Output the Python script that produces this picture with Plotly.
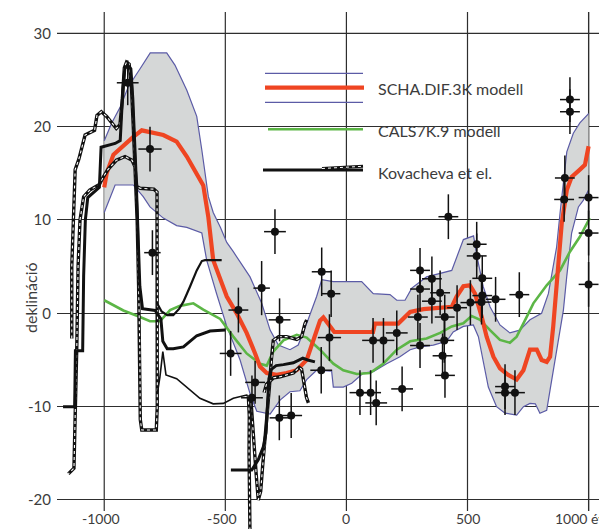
import plotly.graph_objects as go

# ---- SCHA.DIF.3K model: central curve and error envelope (year, declination deg)
scha_mean = [(-1000, 13.5), (-990, 15.0), (-962, 17.0), (-921, 18.0), (-880, 18.9), (-845, 19.6),
             (-797, 19.35), (-756, 19.1), (-701, 18.4), (-659, 16.8), (-591, 13.7), (-570, 10.3),
             (-550, 5.7), (-521, 3.6), (-494, 1.8), (-453, 0.0), (-412, -2.1), (-377, -4.3),
             (-357, -5.7), (-329, -6.4), (-288, -6.6), (-247, -6.4), (-205, -6.1), (-164, -5.0),
             (-137, -3.0), (-109, -0.8), (-95, -0.45), (-68, -1.4), (-50, -2.0), (110, -2.0),
             (118, -1.1), (214, -1.1), (263, 0.15), (318, 0.45), (373, 0.55), (435, 0.7),
             (455, 1.8), (483, 2.9), (510, 3.0), (531, 2.1), (559, -0.4), (579, -2.5),
             (607, -4.65), (634, -5.9), (668, -6.6), (703, -7.1), (731, -6.1), (758, -3.9),
             (786, -3.9), (806, -5.0), (827, -5.2), (841, -4.65), (854, -1.4), (868, 2.85),
             (889, 9.6), (910, 13.2), (930, 14.6), (964, 15.4), (985, 15.9), (1000, 17.9)]

scha_upper = [(-1000, 18.5), (-969, 20.4), (-934, 22.1), (-900, 24.3), (-852, 26.2), (-810, 27.9),
              (-742, 27.9), (-708, 26.6), (-659, 23.9), (-618, 21.1), (-597, 17.5), (-584, 15.0),
              (-570, 12.5), (-550, 10.8), (-520, 9.2), (-494, 7.6), (-467, 6.6), (-398, 3.9),
              (-350, 1.1), (-315, -1.8), (-281, -3.4), (-233, -3.9), (-199, -3.4), (-164, -1.1),
              (-123, 1.8), (-102, 3.6), (-54, 3.4), (63, 3.4), (111, 2.1), (180, 2.0), (208, 1.4),
              (242, 1.4), (270, 2.7), (331, 3.9), (435, 4.6), (483, 7.9), (525, 8.3), (540, 6.0),
              (565, 2.85), (593, 0.7), (634, -1.25), (675, -2.1), (716, -1.8), (758, -0.7),
              (806, 0.0), (834, 2.1), (868, 7.1), (882, 10.7), (910, 17.3), (937, 19.3),
              (964, 20.4), (1000, 21.4)]

scha_lower = [(-1000, 10.8), (-955, 13.75), (-880, 13.75), (-839, 12.5), (-811, 11.4), (-756, 10.2),
              (-701, 9.4), (-659, 9.2), (-597, 8.6), (-584, 6.6), (-577, 5.7), (-536, 2.1),
              (-494, -1.4), (-439, -5.0), (-398, -8.6), (-370, -10.5), (-315, -10.8), (-274, -9.3),
              (-233, -8.4), (-192, -8.3), (-164, -7.1), (-123, -6.1), (-61, -6.2), (-54, -7.9),
              (-13, -7.9), (22, -7.5), (70, -6.4), (111, -6.25), (166, -5.4), (221, -4.65),
              (263, -3.9), (304, -3.6), (359, -3.4), (414, -3.0), (441, -2.0), (483, -1.4),
              (524, -1.25), (545, -2.5), (565, -5.0), (586, -7.9), (620, -10.0), (655, -10.7),
              (703, -10.9), (731, -10.0), (758, -9.65), (780, -9.7), (799, -10.7), (827, -10.4),
              (841, -8.2), (868, -3.9), (896, 0.35), (910, 4.0), (930, 8.6), (958, 11.4),
              (978, 12.1), (1000, 13.2)]

# ---- CALS7K.9 model
cals = [(-1000, 1.4), (-921, 0.3), (-852, -0.4), (-811, -0.85), (-770, -0.85), (-728, 0.35),
        (-687, 0.8), (-632, 1.07), (-591, 0.4), (-521, -0.6), (-467, -2.5), (-412, -4.3),
        (-357, -5.4), (-329, -5.6), (-302, -4.1), (-260, -2.9), (-205, -2.3), (-164, -2.6),
        (-109, -3.9), (-54, -5.4), (-13, -6.1), (43, -6.5), (97, -6.4), (152, -5.4), (208, -3.9),
        (263, -3.0), (331, -2.7), (387, -2.1), (435, -1.4), (483, -1.07), (517, -0.3),
        (552, -0.7), (593, -1.8), (634, -2.85), (675, -3.15), (703, -2.5), (744, -0.4),
        (772, 1.07), (827, 3.0), (882, 4.6), (923, 6.6), (964, 8.2), (1005, 10.2)]

# ---- Kovacheva et al. curves (solid = curve, dashed = bounds)
kov_main = [(-1170, -10), (-1122, -10), (-1119, -4), (-1089, -4), (-1085, 4), (-1078, 10),
            (-1068, 12.4), (-1050, 12.8), (-1020, 13.5), (-1013, 17.8), (-955, 18.2), (-934, 18.5),
            (-923, 24), (-915, 26.2), (-903, 26.6), (-890, 26.2), (-882, 23), (-870, 15.7),
            (-859, 8.6), (-853, 2.9), (-842, 0.5), (-790, 0.3), (-766, -0.6), (-758, -3.0),
            (-740, -3.8), (-715, -3.8), (-673, -3.6), (-618, -2.4), (-563, -1.9), (-500, -1.8)]

kov_bound_a = [(-1134, -2.7), (-1134, 5.0), (-1120, 15.4), (-1105, 16.5), (-1079, 19.1), (-1040, 19.6),
               (-1030, 21.2), (-1012, 21.6), (-990, 21.1), (-962, 20.1), (-950, 19.8), (-935, 20.2),
               (-925, 23), (-917, 26.3), (-908, 26.9), (-897, 26.7), (-888, 24.5), (-880, 20),
               (-872, 15), (-864, 10), (-858, 3), (-853, -4), (-851, -11.4), (-845, -12.5),
               (-785, -12.5), (-781, -10), (-780, 0), (-780, 10), (-782, 13.0), (-795, 13.3),
               (-852, 13.4), (-866, 13.6), (-873, 15.7), (-885, 16.4), (-914, 16.8), (-950, 16.4),
               (-985, 15.4), (-1004, 14.6), (-1020, 13.8), (-1060, 13.2), (-1085, 12.5),
               (-1100, 10), (-1108, 5), (-1113, -3.2), (-1118, -10), (-1125, -16.6), (-1148, -17.2)]

kov_upper_b = [(-780, 1.0), (-763, 0.2), (-740, -0.2), (-715, -0.2), (-690, 0.5), (-673, 1.25),
               (-646, 2.85), (-618, 4.6), (-597, 5.6), (-584, 5.7), (-515, 5.7)]

kov_lower_b = [(-780, -8.5), (-770, -6.8), (-758, -4.1), (-745, -6.6), (-701, -7.0), (-659, -7.9),
               (-605, -9.1), (-550, -9.7), (-508, -9.65), (-467, -9.1), (-412, -8.75), (-395, -9.0)]

kov_drop = [(-405, -8.8), (-401, -11), (-402, -15), (-399, -20), (-398, -24)]

kov_dip = [(-395, -9.0), (-388, -12), (-381, -14.5), (-373, -17.1), (-364, -20.0), (-354, -19.1),
           (-346, -16.4), (-336, -13.6), (-327, -11.4), (-318, -7.9), (-310, -5.0), (-302, -2.9),
           (-280, -2.5), (-247, -2.5), (-205, -2.8), (-185, -2.5), (-171, -1.1), (-164, -0.7)]

kov_late = [(-477, -16.8), (-391, -16.8), (-364, -15.7), (-343, -14.3), (-332, -12.8), (-325, -9.0),
            (-320, -7.0), (-310, -6.0), (-290, -5.6), (-260, -5.5), (-219, -5.3), (-180, -4.8),
            (-160, -5.0), (-130, -5.2)]

kov_late_b = [(-340, -8.5), (-330, -7.6), (-300, -6.9), (-274, -6.8), (-219, -6.4), (-195, -5.8),
              (-185, -6.0), (-175, -7.5), (-165, -9.0), (-157, -9.6)]

# ---- archaeomagnetic data: year, declination, age error (yr), declination error (deg)
obs_year = [-903, -811, -801, -295, -350, -446, -276, -478, -377, -390, -277, -228,
            -102, -63, -70, -104, 56, 100, 123, 110, 153, 208, 230,
            304, 304, 353, 353, 387, 295, 304, 406, 404, 397, 407, 457, 421,
            512, 538, 538, 561, 561, 558, 616, 714, 655, 655, 696,
            923, 923, 902, 899, 1000, 1000, 1000]
obs_decl = [24.7, 17.6, 6.5, 8.75, 2.7, 0.35, -0.7, -4.3, -7.4, -9.05, -11.2, -10.95,
            4.45, 2.1, -2.6, -6.1, -8.5, -8.5, -9.6, -2.9, -2.9, -2.1, -8.1,
            4.6, 2.6, 3.7, 1.3, 2.2, -0.4, -3.45, -0.4, -2.9, -4.55, -6.65, 0.6, 10.35,
            1.15, 7.4, 6.15, 3.75, 1.9, 1.2, 1.5, 2.0, -7.85, -8.5, -8.5,
            22.9, 21.6, 14.5, 12.2, 12.4, 8.6, 3.1]
obs_age_err = [45, 48, 34, 45, 34, 41, 45, 45, 41, 45, 40, 45,
               41, 38, 48, 45, 43, 43, 45, 45, 45, 45, 45,
               41, 41, 41, 41, 41, 41, 41, 41, 41, 41, 41, 41, 41,
               41, 41, 41, 41, 41, 41, 41, 41, 41, 41, 41,
               41, 41, 41, 41, 41, 41, 41]
obs_decl_err = [2.4, 2.4, 2.4, 2.4, 2.9, 2.4, 2.3, 2.4, 2.3, 2.4, 2.4, 2.4,
                2.6, 2.5, 2.5, 2.5, 2.4, 2.4, 2.4, 2.4, 2.4, 2.4, 2.4,
                2.4, 2.4, 2.4, 2.4, 2.4, 2.4, 2.4, 2.4, 2.4, 2.4, 2.4, 2.4, 2.4,
                2.4, 2.4, 2.4, 2.4, 2.4, 2.4, 2.4, 2.4, 2.4, 2.4, 2.4,
                2.4, 2.4, 2.4, 2.4, 2.4, 2.4, 2.4]

# ---- axes
x_ticks = [-1000, -500, 0, 500, 1000]
x_tick_text = ["-1000", "-500", "0", "500", "1000 év"]
y_ticks = [-20, -10, 0, 10, 20, 30]
y_tick_text = ["-20", "-10", "0", "10", "20", "30"]
y_title = "deklináció"

legend_labels = ["SCHA.DIF.3K modell", "CALS7K.9 modell", "Kovacheva et el."]

# ---- styles
FONT = "Lato, 'Open Sans', sans-serif"
TEXT = "#3c3c3c"
GRID = "#2e2e2e"
BAND_FILL = "#d5d7d7"
BAND_LINE = "#5b5ba6"
RED = "#ef4522"
GREEN = "#5cb646"
BLACK = "#111111"

W, H = 599, 529
ML = 57
X_RANGE = [-1195, 1043]
Y_RANGE = [-23.11, 33.57]
GRID_Y_LO, GRID_Y_HI = -21.18, 32.28
X_LABEL_Y = -22.0


def cols(pairs):
    return [p[0] for p in pairs], [p[1] for p in pairs]


def pxx(x):
    return (x - ML) / (W - ML)


def pxy(y):
    return 1 - y / H


fig = go.Figure()

# error envelope of SCHA.DIF.3K
ut, ud = cols(scha_upper)
lt, ld = cols(scha_lower)
fig.add_trace(go.Scatter(x=ut + lt[::-1], y=ud + ld[::-1], fill="toself", fillcolor=BAND_FILL,
                         line=dict(width=0), mode="lines", hoverinfo="skip"))
fig.add_trace(go.Scatter(x=ut, y=ud, mode="lines", line=dict(color=BAND_LINE, width=1.2)))
fig.add_trace(go.Scatter(x=lt, y=ld, mode="lines", line=dict(color=BAND_LINE, width=1.2)))

# CALS7K.9
ct, cd = cols(cals)
fig.add_trace(go.Scatter(x=ct, y=cd, mode="lines", line=dict(color=GREEN, width=2.6)))

# SCHA.DIF.3K
st, sd = cols(scha_mean)
fig.add_trace(go.Scatter(x=st, y=sd, mode="lines", line=dict(color=RED, width=4.2)))


def add_solid(pairs, width):
    t, d = cols(pairs)
    fig.add_trace(go.Scatter(x=t, y=d, mode="lines", line=dict(color=BLACK, width=width)))


def add_dashed(pairs):
    t, d = cols(pairs)
    fig.add_trace(go.Scatter(x=t, y=d, mode="lines", line=dict(color=BLACK, width=3.4)))
    fig.add_trace(go.Scatter(x=t, y=d, mode="lines",
                             line=dict(color="white", width=1.1, dash="3px,3px")))


add_dashed(kov_bound_a)
add_solid(kov_main, 3.0)
add_solid(kov_upper_b, 2.2)
add_solid(kov_lower_b, 1.6)
add_dashed(kov_drop)
add_dashed(kov_dip)
add_dashed(kov_late_b)
add_solid(kov_late, 3.0)

# archaeomagnetic observations with error crosses
fig.add_trace(go.Scatter(
    x=obs_year, y=obs_decl, mode="markers",
    marker=dict(color=BLACK, size=8),
    error_x=dict(type="data", array=obs_age_err, color=BLACK, thickness=1.5, width=0),
    error_y=dict(type="data", array=obs_decl_err, color=BLACK, thickness=1.5, width=0),
))

# ---- grid, legend box and legend samples
shapes = []
for v in x_ticks:
    shapes.append(dict(type="line", xref="x", yref="y", x0=v, x1=v, y0=GRID_Y_LO, y1=GRID_Y_HI,
                       line=dict(color=GRID, width=1.2), layer="between"))
shapes.append(dict(type="rect", xref="paper", yref="paper", x0=pxx(253), x1=1.0, y0=pxy(195), y1=1.0,
                   fillcolor="white", line=dict(width=0), layer="between"))
shapes.append(dict(type="line", xref="paper", yref="y", x0=0, x1=1, y0=y_ticks[-1], y1=y_ticks[-1],
                   line=dict(color=GRID, width=1.2), layer="between"))
shapes.append(dict(type="line", xref="x", yref="y", x0=x_ticks[-1], x1=x_ticks[-1],
                   y0=GRID_Y_LO, y1=GRID_Y_HI, line=dict(color=GRID, width=1.2), layer="between"))


def seg(x0, y0, x1, y1, color, width, dash="solid"):
    shapes.append(dict(type="line", xref="paper", yref="paper", x0=pxx(x0), x1=pxx(x1),
                       y0=pxy(y0), y1=pxy(y1), line=dict(color=color, width=width, dash=dash),
                       layer="above"))


seg(265, 73.3, 363, 73.3, BAND_LINE, 1.3)
seg(265, 87.7, 364, 87.7, RED, 4.2)
seg(265, 102.3, 363, 102.3, BAND_LINE, 1.3)
seg(268, 129.3, 363, 129.3, GREEN, 2.6)
seg(263, 170, 363, 170, BLACK, 3.0)
seg(322, 168.5, 363, 166.3, BLACK, 3.0)
seg(322, 168.5, 363, 166.3, "white", 1.0, "3px,3px")

annotations = []
for y_px, label in zip([88, 130, 172], legend_labels):
    annotations.append(dict(x=pxx(376), y=pxy(y_px), xref="paper", yref="paper", text=label,
                            showarrow=False, xanchor="left", yanchor="middle",
                            font=dict(family=FONT, size=16, color=TEXT)))

for v, label in zip(x_ticks, x_tick_text):
    shift = -3 if label.startswith("-") else 0
    if " " in label:
        shift = -8
    annotations.append(dict(x=v, y=X_LABEL_Y, xref="x", yref="y", text=label, showarrow=False,
                            xanchor="center", yanchor="middle", xshift=shift,
                            font=dict(family=FONT, size=14, color=TEXT)))

annotations.append(dict(x=pxx(30), y=pxy(298), xref="paper", yref="paper", text=y_title,
                        showarrow=False, textangle=-90, xanchor="center", yanchor="middle",
                        font=dict(family=FONT, size=16, color=TEXT)))

fig.update_layout(
    width=W, height=H,
    margin=dict(l=ML, r=0, t=0, b=0),
    paper_bgcolor="white", plot_bgcolor="white",
    showlegend=False,
    shapes=shapes, annotations=annotations,
    xaxis=dict(range=X_RANGE, showgrid=False, zeroline=False, showticklabels=False,
               showline=False, ticks=""),
    yaxis=dict(range=Y_RANGE, tickvals=y_ticks, ticktext=y_tick_text, showgrid=True,
               gridcolor=GRID, gridwidth=1.2, zeroline=False, showline=False, ticks="",
               ticklabelstandoff=5, tickfont=dict(family=FONT, size=15, color=TEXT)),
)

fig.write_html("out.html")
